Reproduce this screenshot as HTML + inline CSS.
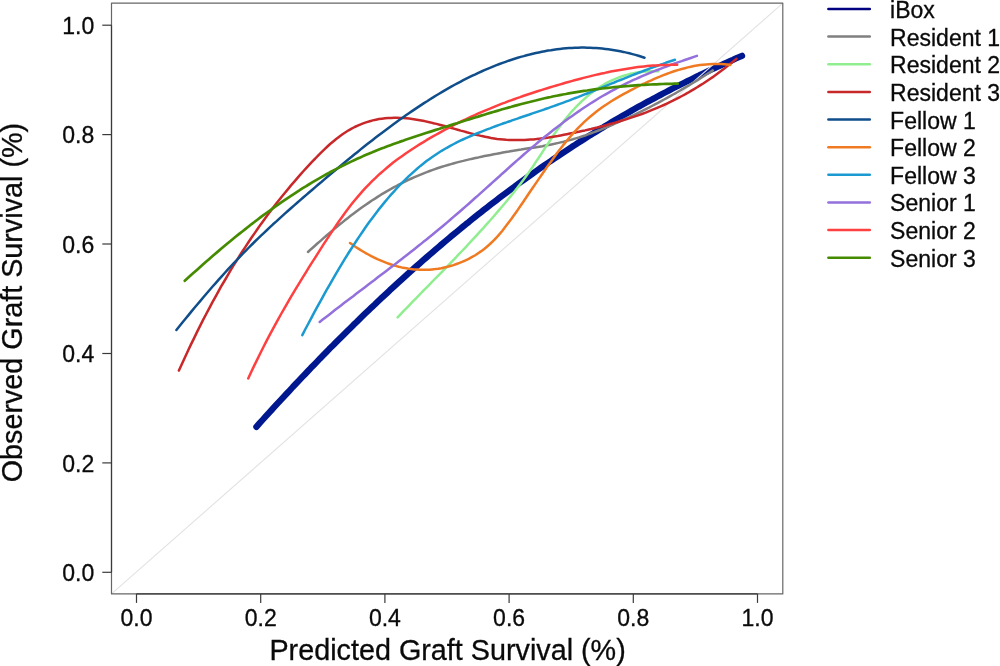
<!DOCTYPE html>
<html><head><meta charset="utf-8"><title>Calibration plot</title>
<style>
html,body{margin:0;padding:0;background:#fff;}
svg{display:block;will-change:transform;}
text{font-family:"Liberation Sans",sans-serif;fill:#0a0a0a;stroke:#0a0a0a;stroke-width:0.3px;}
</style></head>
<body>
<svg width="1000" height="666" viewBox="0 0 1000 666">
<rect x="0" y="0" width="1000" height="666" fill="#ffffff"/>
<path d="M256.4,426.8 L259.4,423.4 L262.5,420.0 L265.5,416.7 L268.5,413.3 L271.6,410.0 L274.6,406.7 L277.6,403.4 L280.7,400.1 L283.7,396.8 L286.8,393.5 L289.8,390.3 L292.8,387.0 L295.9,383.8 L298.9,380.6 L301.9,377.4 L305.0,374.2 L308.0,371.0 L311.0,367.8 L314.1,364.7 L317.1,361.6 L320.1,358.4 L323.2,355.3 L326.2,352.2 L329.2,349.1 L332.3,346.1 L335.3,343.0 L338.3,340.0 L341.4,336.9 L344.4,333.9 L347.4,330.9 L350.5,327.9 L353.5,324.9 L356.6,322.0 L359.6,319.0 L362.6,316.1 L365.7,313.1 L368.7,310.2 L371.7,307.3 L374.8,304.5 L377.8,301.6 L380.8,298.7 L383.9,295.9 L386.9,293.1 L389.9,290.2 L393.0,287.4 L396.0,284.6 L399.0,281.9 L402.1,279.1 L405.1,276.4 L408.1,273.6 L411.2,270.9 L414.2,268.2 L417.3,265.5 L420.3,262.8 L423.3,260.2 L426.4,257.5 L429.4,254.9 L432.4,252.3 L435.5,249.6 L438.5,247.1 L441.5,244.5 L444.6,241.9 L447.6,239.4 L450.6,236.8 L453.7,234.3 L456.7,231.8 L459.7,229.3 L462.8,226.8 L465.8,224.3 L468.9,221.9 L471.9,219.4 L474.9,217.0 L478.0,214.6 L481.0,212.2 L484.0,209.8 L487.1,207.4 L490.1,205.1 L493.1,202.8 L496.2,200.4 L499.2,198.1 L502.2,195.8 L505.3,193.5 L508.3,191.3 L511.3,189.0 L514.4,186.8 L517.4,184.5 L520.4,182.3 L523.5,180.1 L526.5,177.9 L529.5,175.8 L532.6,173.6 L535.6,171.5 L538.7,169.3 L541.7,167.2 L544.7,165.1 L547.8,163.0 L550.8,161.0 L553.8,158.9 L556.9,156.9 L559.9,154.8 L562.9,152.8 L566.0,150.8 L569.0,148.8 L572.0,146.8 L575.1,144.9 L578.1,142.9 L581.1,141.0 L584.2,139.0 L587.2,137.1 L590.2,135.2 L593.3,133.4 L596.3,131.5 L599.4,129.6 L602.4,127.8 L605.4,125.9 L608.5,124.1 L611.5,122.3 L614.5,120.5 L617.6,118.7 L620.6,117.0 L623.6,115.2 L626.7,113.5 L629.7,111.8 L632.7,110.0 L635.8,108.3 L638.8,106.6 L641.8,105.0 L644.9,103.3 L647.9,101.6 L651.0,100.0 L654.0,98.4 L657.0,96.7 L660.1,95.1 L663.1,93.5 L666.1,92.0 L669.2,90.4 L672.2,88.8 L675.2,87.3 L678.3,85.7 L681.3,84.2 L684.3,82.7 L687.4,81.2 L690.4,79.7 L693.4,78.2 L696.5,76.7 L699.5,75.2 L702.5,73.8 L705.6,72.3 L708.6,70.9 L711.6,69.5 L714.7,68.1 L717.7,66.7 L720.8,65.3 L723.8,63.9 L726.8,62.5 L729.9,61.1 L732.9,59.8 L735.9,58.4 L739.0,57.1 L742.0,55.8" fill="none" stroke="#00188f" stroke-width="6.3" stroke-linecap="round" stroke-linejoin="round"/>
<line x1="111.5" y1="593.9" x2="782.8" y2="3.1" stroke="#e2e2e2" stroke-width="1.1"/>
<path d="M308.0,252.0 L311.0,249.2 L314.1,246.5 L317.1,243.8 L320.2,241.1 L323.2,238.4 L326.3,235.8 L329.3,233.2 L332.3,230.6 L335.4,228.1 L338.4,225.5 L341.5,223.1 L344.5,220.6 L347.6,218.2 L350.6,215.8 L353.7,213.5 L356.7,211.2 L359.7,209.0 L362.8,206.8 L365.8,204.7 L368.9,202.6 L371.9,200.5 L375.0,198.6 L378.0,196.6 L381.0,194.7 L384.1,192.9 L387.1,191.1 L390.2,189.4 L393.2,187.7 L396.3,186.0 L399.3,184.4 L402.4,182.9 L405.4,181.4 L408.4,179.9 L411.5,178.5 L414.5,177.2 L417.6,175.8 L420.6,174.6 L423.7,173.3 L426.7,172.2 L429.7,171.0 L432.8,169.9 L435.8,168.8 L438.9,167.8 L441.9,166.8 L445.0,165.9 L448.0,165.0 L451.0,164.1 L454.1,163.2 L457.1,162.4 L460.2,161.6 L463.2,160.9 L466.3,160.1 L469.3,159.4 L472.4,158.7 L475.4,158.0 L478.4,157.4 L481.5,156.7 L484.5,156.1 L487.6,155.5 L490.6,154.9 L493.7,154.3 L496.7,153.8 L499.7,153.2 L502.8,152.6 L505.8,152.1 L508.9,151.6 L511.9,151.0 L515.0,150.5 L518.0,150.0 L521.1,149.6 L524.1,149.1 L527.1,148.6 L530.2,148.1 L533.2,147.7 L536.3,147.2 L539.3,146.7 L542.4,146.2 L545.4,145.6 L548.4,145.0 L551.5,144.4 L554.5,143.8 L557.6,143.1 L560.6,142.4 L563.7,141.7 L566.7,140.9 L569.8,140.1 L572.8,139.3 L575.8,138.4 L578.9,137.5 L581.9,136.5 L585.0,135.5 L588.0,134.4 L591.1,133.3 L594.1,132.2 L597.1,131.0 L600.2,129.8 L603.2,128.6 L606.3,127.3 L609.3,126.1 L612.4,124.8 L615.4,123.4 L618.4,122.1 L621.5,120.7 L624.5,119.4 L627.6,118.0 L630.6,116.5 L633.7,115.1 L636.7,113.6 L639.8,112.1 L642.8,110.6 L645.8,109.1 L648.9,107.6 L651.9,106.0 L655.0,104.4 L658.0,102.8 L661.1,101.2 L664.1,99.5 L667.1,97.9 L670.2,96.2 L673.2,94.5 L676.3,92.8 L679.3,91.0 L682.4,89.2 L685.4,87.4 L688.5,85.6 L691.5,83.8 L694.5,82.0 L697.6,80.1 L700.6,78.2 L703.7,76.3 L706.7,74.3 L709.8,72.4 L712.8,70.4" fill="none" stroke="#808080" stroke-width="2.5" stroke-linecap="round" stroke-linejoin="round"/>
<path d="M397.6,317.3 L400.7,314.1 L403.7,310.9 L406.8,307.8 L409.9,304.6 L412.9,301.4 L416.0,298.3 L419.1,295.2 L422.1,292.0 L425.2,288.9 L428.3,285.8 L431.3,282.7 L434.4,279.5 L437.5,276.4 L440.5,273.3 L443.6,270.1 L446.7,267.0 L449.7,263.8 L452.8,260.6 L455.9,257.5 L458.9,254.2 L462.0,251.0 L465.1,247.8 L468.1,244.5 L471.2,241.2 L474.3,237.9 L477.3,234.6 L480.4,231.2 L483.5,227.9 L486.5,224.4 L489.6,221.0 L492.7,217.5 L495.7,214.0 L498.8,210.4 L501.9,206.8 L504.9,203.2 L508.0,199.5 L511.1,195.7 L514.1,191.9 L517.2,188.0 L520.3,184.0 L523.3,180.0 L526.4,175.8 L529.5,171.4 L532.6,167.0 L535.6,162.4 L538.7,157.8 L541.8,153.1 L544.8,148.4 L547.9,143.7 L551.0,139.1 L554.0,134.5 L557.1,130.1 L560.2,125.9 L563.2,121.9 L566.3,118.0 L569.4,114.3 L572.4,110.8 L575.5,107.5 L578.6,104.3 L581.6,101.4 L584.7,98.6 L587.8,95.9 L590.8,93.4 L593.9,91.1 L597.0,88.9 L600.0,86.9 L603.1,85.0 L606.2,83.2 L609.2,81.6 L612.3,80.1 L615.4,78.8 L618.4,77.6 L621.5,76.5 L624.6,75.5 L627.6,74.6 L630.7,73.8 L633.8,73.2 L636.8,72.6 L639.9,72.1 L643.0,71.8 L646.0,71.5 L649.1,71.3 L652.2,71.2 L655.2,71.2 L658.3,71.2" fill="none" stroke="#90ee90" stroke-width="2.5" stroke-linecap="round" stroke-linejoin="round"/>
<path d="M178.9,370.6 L181.9,363.9 L185.0,357.3 L188.0,350.8 L191.0,344.4 L194.1,338.1 L197.1,331.9 L200.1,325.9 L203.1,319.9 L206.2,314.0 L209.2,308.3 L212.2,302.6 L215.3,297.1 L218.3,291.6 L221.3,286.2 L224.4,281.0 L227.4,275.8 L230.4,270.7 L233.4,265.7 L236.5,260.8 L239.5,256.0 L242.5,251.2 L245.6,246.6 L248.6,242.0 L251.6,237.5 L254.7,233.1 L257.7,228.7 L260.7,224.4 L263.8,220.2 L266.8,216.1 L269.8,212.1 L272.8,208.1 L275.9,204.1 L278.9,200.3 L281.9,196.5 L285.0,192.7 L288.0,189.1 L291.0,185.4 L294.1,181.9 L297.1,178.4 L300.1,174.9 L303.1,171.5 L306.2,168.2 L309.2,164.9 L312.2,161.6 L315.3,158.5 L318.3,155.3 L321.3,152.3 L324.4,149.4 L327.4,146.5 L330.4,143.8 L333.5,141.2 L336.5,138.7 L339.5,136.4 L342.5,134.2 L345.6,132.2 L348.6,130.3 L351.6,128.6 L354.7,127.0 L357.7,125.6 L360.7,124.3 L363.8,123.1 L366.8,122.1 L369.8,121.2 L372.8,120.4 L375.9,119.7 L378.9,119.1 L381.9,118.7 L385.0,118.3 L388.0,118.0 L391.0,117.9 L394.1,117.8 L397.1,117.8 L400.1,117.9 L403.2,118.1 L406.2,118.3 L409.2,118.6 L412.2,119.0 L415.3,119.5 L418.3,120.0 L421.3,120.5 L424.4,121.1 L427.4,121.8 L430.4,122.4 L433.5,123.2 L436.5,123.9 L439.5,124.7 L442.5,125.5 L445.6,126.3 L448.6,127.2 L451.6,128.0 L454.7,128.9 L457.7,129.7 L460.7,130.6 L463.8,131.4 L466.8,132.3 L469.8,133.1 L472.9,133.9 L475.9,134.7 L478.9,135.4 L481.9,136.1 L485.0,136.7 L488.0,137.3 L491.0,137.9 L494.1,138.4 L497.1,138.9 L500.1,139.2 L503.2,139.5 L506.2,139.8 L509.2,140.0 L512.2,140.1 L515.3,140.1 L518.3,140.1 L521.3,140.1 L524.4,140.0 L527.4,139.8 L530.4,139.6 L533.5,139.4 L536.5,139.1 L539.5,138.7 L542.6,138.3 L545.6,137.9 L548.6,137.5 L551.6,137.0 L554.7,136.5 L557.7,136.0 L560.7,135.4 L563.8,134.8 L566.8,134.2 L569.8,133.6 L572.9,133.0 L575.9,132.4 L578.9,131.7 L581.9,131.0 L585.0,130.4 L588.0,129.7 L591.0,129.0 L594.1,128.2 L597.1,127.5 L600.1,126.7 L603.2,126.0 L606.2,125.2 L609.2,124.3 L612.3,123.5 L615.3,122.6 L618.3,121.7 L621.3,120.8 L624.4,119.9 L627.4,118.9 L630.4,117.9 L633.5,116.9 L636.5,115.9 L639.5,114.8 L642.6,113.7 L645.6,112.6 L648.6,111.4 L651.6,110.2 L654.7,108.9 L657.7,107.6 L660.7,106.3 L663.8,105.0 L666.8,103.6 L669.8,102.2 L672.9,100.7 L675.9,99.2 L678.9,97.6 L682.0,96.0 L685.0,94.4 L688.0,92.7 L691.0,90.9 L694.1,89.1 L697.1,87.3 L700.1,85.4 L703.2,83.5 L706.2,81.5 L709.2,79.5 L712.3,77.4 L715.3,75.2 L718.3,73.0 L721.3,70.8 L724.4,68.5 L727.4,66.1 L730.4,63.7 L733.5,61.2 L736.5,58.7" fill="none" stroke="#c8282a" stroke-width="2.5" stroke-linecap="round" stroke-linejoin="round"/>
<path d="M176.4,330.0 L179.4,326.3 L182.4,322.5 L185.5,318.8 L188.5,315.1 L191.5,311.4 L194.5,307.8 L197.5,304.2 L200.6,300.6 L203.6,297.0 L206.6,293.5 L209.6,290.0 L212.6,286.5 L215.7,283.1 L218.7,279.7 L221.7,276.3 L224.7,273.0 L227.7,269.7 L230.8,266.4 L233.8,263.2 L236.8,260.0 L239.8,256.8 L242.8,253.7 L245.9,250.6 L248.9,247.5 L251.9,244.5 L254.9,241.5 L257.9,238.6 L261.0,235.7 L264.0,232.8 L267.0,230.0 L270.0,227.1 L273.0,224.3 L276.1,221.6 L279.1,218.8 L282.1,216.1 L285.1,213.4 L288.1,210.7 L291.2,208.0 L294.2,205.4 L297.2,202.8 L300.2,200.1 L303.2,197.5 L306.3,194.9 L309.3,192.3 L312.3,189.7 L315.3,187.1 L318.3,184.5 L321.4,182.0 L324.4,179.4 L327.4,176.8 L330.4,174.3 L333.4,171.8 L336.5,169.2 L339.5,166.7 L342.5,164.2 L345.5,161.7 L348.5,159.2 L351.6,156.8 L354.6,154.3 L357.6,151.9 L360.6,149.4 L363.6,147.0 L366.7,144.6 L369.7,142.3 L372.7,139.9 L375.7,137.6 L378.7,135.2 L381.8,132.9 L384.8,130.7 L387.8,128.4 L390.8,126.2 L393.8,123.9 L396.9,121.7 L399.9,119.6 L402.9,117.4 L405.9,115.3 L408.9,113.2 L412.0,111.1 L415.0,109.1 L418.0,107.1 L421.0,105.1 L424.0,103.1 L427.1,101.2 L430.1,99.2 L433.1,97.4 L436.1,95.5 L439.1,93.7 L442.2,91.9 L445.2,90.1 L448.2,88.4 L451.2,86.7 L454.2,85.0 L457.3,83.4 L460.3,81.8 L463.3,80.2 L466.3,78.7 L469.3,77.2 L472.4,75.7 L475.4,74.3 L478.4,72.8 L481.4,71.5 L484.4,70.1 L487.5,68.8 L490.5,67.6 L493.5,66.3 L496.5,65.1 L499.5,64.0 L502.6,62.9 L505.6,61.8 L508.6,60.7 L511.6,59.7 L514.6,58.7 L517.7,57.8 L520.7,56.9 L523.7,56.1 L526.7,55.2 L529.7,54.5 L532.8,53.7 L535.8,53.0 L538.8,52.4 L541.8,51.8 L544.8,51.2 L547.9,50.6 L550.9,50.2 L553.9,49.7 L556.9,49.3 L559.9,48.9 L563.0,48.6 L566.0,48.3 L569.0,48.1 L572.0,47.9 L575.0,47.8 L578.1,47.7 L581.1,47.6 L584.1,47.6 L587.1,47.7 L590.1,47.8 L593.2,47.9 L596.2,48.1 L599.2,48.3 L602.2,48.6 L605.2,48.9 L608.3,49.3 L611.3,49.7 L614.3,50.2 L617.3,50.7 L620.3,51.3 L623.4,51.9 L626.4,52.6 L629.4,53.3 L632.4,54.1 L635.4,54.9 L638.5,55.8 L641.5,56.7 L644.5,57.7" fill="none" stroke="#104e8b" stroke-width="2.5" stroke-linecap="round" stroke-linejoin="round"/>
<path d="M350.0,243.0 L353.0,245.1 L356.1,247.2 L359.1,249.1 L362.2,251.0 L365.2,252.8 L368.3,254.5 L371.3,256.1 L374.3,257.6 L377.4,259.1 L380.4,260.4 L383.5,261.7 L386.5,262.9 L389.6,264.0 L392.6,265.0 L395.6,265.9 L398.7,266.7 L401.7,267.4 L404.8,268.0 L407.8,268.6 L410.9,269.0 L413.9,269.4 L417.0,269.6 L420.0,269.8 L423.0,269.8 L426.1,269.8 L429.1,269.7 L432.2,269.4 L435.2,269.1 L438.3,268.7 L441.3,268.2 L444.3,267.5 L447.4,266.8 L450.4,266.0 L453.5,265.1 L456.5,264.0 L459.6,262.9 L462.6,261.7 L465.6,260.3 L468.7,258.8 L471.7,257.2 L474.8,255.5 L477.8,253.5 L480.9,251.4 L483.9,249.2 L486.9,246.7 L490.0,244.0 L493.0,241.1 L496.1,238.0 L499.1,234.6 L502.2,231.0 L505.2,227.1 L508.2,223.1 L511.3,219.0 L514.3,214.7 L517.4,210.4 L520.4,206.0 L523.5,201.5 L526.5,197.0 L529.5,192.5 L532.6,188.0 L535.6,183.6 L538.7,179.1 L541.7,174.7 L544.8,170.3 L547.8,165.9 L550.9,161.7 L553.9,157.5 L556.9,153.3 L560.0,149.3 L563.0,145.4 L566.1,141.6 L569.1,138.0 L572.2,134.4 L575.2,131.1 L578.2,127.9 L581.3,124.8 L584.3,121.9 L587.4,119.1 L590.4,116.5 L593.5,114.0 L596.5,111.6 L599.5,109.3 L602.6,107.1 L605.6,105.0 L608.7,103.0 L611.7,101.0 L614.8,99.2 L617.8,97.4 L620.8,95.6 L623.9,93.9 L626.9,92.3 L630.0,90.7 L633.0,89.1 L636.1,87.5 L639.1,86.0 L642.1,84.5 L645.2,83.1 L648.2,81.6 L651.3,80.3 L654.3,78.9 L657.4,77.6 L660.4,76.4 L663.4,75.1 L666.5,74.0 L669.5,72.9 L672.6,71.8 L675.6,70.8 L678.7,69.9 L681.7,69.0 L684.8,68.2 L687.8,67.4 L690.8,66.7 L693.9,66.1 L696.9,65.6 L700.0,65.1 L703.0,64.7 L706.1,64.4 L709.1,64.2 L712.1,64.0 L715.2,63.9 L718.2,63.9 L721.3,64.0 L724.3,64.2 L727.4,64.5 L730.4,64.9" fill="none" stroke="#f07a22" stroke-width="2.5" stroke-linecap="round" stroke-linejoin="round"/>
<path d="M302.3,335.1 L305.3,329.3 L308.4,323.5 L311.4,317.8 L314.4,312.2 L317.4,306.6 L320.5,301.1 L323.5,295.6 L326.5,290.2 L329.6,284.9 L332.6,279.6 L335.6,274.4 L338.7,269.2 L341.7,264.2 L344.7,259.2 L347.7,254.3 L350.8,249.5 L353.8,244.8 L356.8,240.2 L359.9,235.6 L362.9,231.2 L365.9,226.8 L368.9,222.6 L372.0,218.4 L375.0,214.4 L378.0,210.4 L381.1,206.6 L384.1,202.9 L387.1,199.2 L390.1,195.7 L393.2,192.3 L396.2,189.0 L399.2,185.7 L402.3,182.6 L405.3,179.6 L408.3,176.7 L411.4,173.8 L414.4,171.1 L417.4,168.5 L420.4,165.9 L423.5,163.5 L426.5,161.1 L429.5,158.9 L432.6,156.7 L435.6,154.7 L438.6,152.7 L441.6,150.8 L444.7,149.0 L447.7,147.3 L450.7,145.6 L453.8,144.0 L456.8,142.4 L459.8,140.9 L462.9,139.5 L465.9,138.1 L468.9,136.8 L471.9,135.5 L475.0,134.2 L478.0,133.0 L481.0,131.8 L484.1,130.6 L487.1,129.4 L490.1,128.3 L493.1,127.1 L496.2,126.0 L499.2,124.9 L502.2,123.8 L505.3,122.8 L508.3,121.7 L511.3,120.7 L514.3,119.6 L517.4,118.6 L520.4,117.5 L523.4,116.5 L526.5,115.5 L529.5,114.5 L532.5,113.4 L535.6,112.4 L538.6,111.4 L541.6,110.4 L544.6,109.3 L547.7,108.3 L550.7,107.2 L553.7,106.1 L556.8,105.0 L559.8,103.9 L562.8,102.8 L565.8,101.7 L568.9,100.6 L571.9,99.4 L574.9,98.2 L578.0,97.1 L581.0,95.9 L584.0,94.7 L587.1,93.5 L590.1,92.3 L593.1,91.1 L596.1,89.8 L599.2,88.6 L602.2,87.4 L605.2,86.2 L608.3,84.9 L611.3,83.7 L614.3,82.5 L617.3,81.2 L620.4,80.0 L623.4,78.8 L626.4,77.6 L629.5,76.4 L632.5,75.2 L635.5,74.0 L638.5,72.8 L641.6,71.7 L644.6,70.5 L647.6,69.4 L650.7,68.2 L653.7,67.1 L656.7,66.0 L659.8,64.9 L662.8,63.9 L665.8,62.8 L668.8,61.8 L671.9,60.8 L674.9,59.8" fill="none" stroke="#1a9ad0" stroke-width="2.5" stroke-linecap="round" stroke-linejoin="round"/>
<path d="M319.7,322.0 L322.7,319.6 L325.8,317.2 L328.8,314.9 L331.9,312.5 L334.9,310.1 L338.0,307.8 L341.0,305.5 L344.0,303.1 L347.1,300.8 L350.1,298.5 L353.2,296.2 L356.2,293.8 L359.2,291.5 L362.3,289.2 L365.3,286.9 L368.4,284.6 L371.4,282.3 L374.5,280.0 L377.5,277.6 L380.5,275.3 L383.6,273.0 L386.6,270.7 L389.7,268.3 L392.7,266.0 L395.7,263.7 L398.8,261.3 L401.8,258.9 L404.9,256.6 L407.9,254.2 L411.0,251.8 L414.0,249.4 L417.0,247.0 L420.1,244.6 L423.1,242.1 L426.2,239.7 L429.2,237.2 L432.3,234.8 L435.3,232.3 L438.3,229.8 L441.4,227.2 L444.4,224.7 L447.5,222.1 L450.5,219.5 L453.5,216.9 L456.6,214.3 L459.6,211.7 L462.7,209.0 L465.7,206.4 L468.8,203.7 L471.8,201.0 L474.8,198.3 L477.9,195.6 L480.9,192.9 L484.0,190.1 L487.0,187.4 L490.0,184.7 L493.1,181.9 L496.1,179.2 L499.2,176.5 L502.2,173.7 L505.3,171.0 L508.3,168.3 L511.3,165.5 L514.4,162.8 L517.4,160.1 L520.5,157.5 L523.5,154.8 L526.6,152.1 L529.6,149.5 L532.6,146.9 L535.7,144.4 L538.7,141.8 L541.8,139.3 L544.8,136.8 L547.8,134.4 L550.9,132.0 L553.9,129.6 L557.0,127.2 L560.0,124.9 L563.1,122.6 L566.1,120.3 L569.1,118.1 L572.2,115.9 L575.2,113.7 L578.3,111.6 L581.3,109.5 L584.3,107.5 L587.4,105.5 L590.4,103.5 L593.5,101.6 L596.5,99.7 L599.6,97.8 L602.6,96.0 L605.6,94.3 L608.7,92.6 L611.7,90.9 L614.8,89.3 L617.8,87.7 L620.9,86.1 L623.9,84.6 L626.9,83.1 L630.0,81.7 L633.0,80.2 L636.1,78.9 L639.1,77.5 L642.1,76.2 L645.2,74.9 L648.2,73.6 L651.3,72.4 L654.3,71.2 L657.4,70.0 L660.4,68.8 L663.4,67.6 L666.5,66.5 L669.5,65.4 L672.6,64.3 L675.6,63.2 L678.6,62.1 L681.7,61.1 L684.7,60.0 L687.8,59.0 L690.8,58.0 L693.9,56.9 L696.9,55.9" fill="none" stroke="#9370db" stroke-width="2.5" stroke-linecap="round" stroke-linejoin="round"/>
<path d="M248.2,378.4 L251.2,371.9 L254.2,365.6 L257.3,359.4 L260.3,353.2 L263.3,347.3 L266.3,341.4 L269.3,335.6 L272.4,329.9 L275.4,324.3 L278.4,318.9 L281.4,313.5 L284.5,308.1 L287.5,302.9 L290.5,297.7 L293.5,292.6 L296.5,287.6 L299.6,282.6 L302.6,277.7 L305.6,272.8 L308.6,267.9 L311.6,263.1 L314.7,258.4 L317.7,253.6 L320.7,248.9 L323.7,244.2 L326.7,239.6 L329.8,234.9 L332.8,230.4 L335.8,225.9 L338.8,221.5 L341.9,217.2 L344.9,213.0 L347.9,209.0 L350.9,205.1 L353.9,201.3 L357.0,197.6 L360.0,194.1 L363.0,190.7 L366.0,187.4 L369.0,184.3 L372.1,181.2 L375.1,178.3 L378.1,175.4 L381.1,172.7 L384.2,170.1 L387.2,167.5 L390.2,165.0 L393.2,162.6 L396.2,160.3 L399.3,158.1 L402.3,155.9 L405.3,153.8 L408.3,151.7 L411.3,149.7 L414.4,147.7 L417.4,145.8 L420.4,143.9 L423.4,142.1 L426.4,140.2 L429.5,138.4 L432.5,136.7 L435.5,135.0 L438.5,133.3 L441.6,131.6 L444.6,129.9 L447.6,128.3 L450.6,126.8 L453.6,125.2 L456.7,123.7 L459.7,122.2 L462.7,120.7 L465.7,119.3 L468.7,117.8 L471.8,116.4 L474.8,115.1 L477.8,113.7 L480.8,112.4 L483.8,111.1 L486.9,109.8 L489.9,108.6 L492.9,107.3 L495.9,106.1 L499.0,104.9 L502.0,103.7 L505.0,102.6 L508.0,101.4 L511.0,100.3 L514.1,99.2 L517.1,98.1 L520.1,97.1 L523.1,96.0 L526.1,95.0 L529.2,94.0 L532.2,93.0 L535.2,92.0 L538.2,91.0 L541.2,90.1 L544.3,89.1 L547.3,88.2 L550.3,87.3 L553.3,86.4 L556.4,85.5 L559.4,84.6 L562.4,83.7 L565.4,82.8 L568.4,82.0 L571.5,81.1 L574.5,80.3 L577.5,79.5 L580.5,78.7 L583.5,77.9 L586.6,77.1 L589.6,76.4 L592.6,75.6 L595.6,74.9 L598.7,74.2 L601.7,73.5 L604.7,72.9 L607.7,72.2 L610.7,71.6 L613.8,71.0 L616.8,70.4 L619.8,69.9 L622.8,69.4 L625.8,68.9 L628.9,68.4 L631.9,67.9 L634.9,67.5 L637.9,67.1 L640.9,66.7 L644.0,66.4 L647.0,66.1 L650.0,65.8 L653.0,65.6 L656.1,65.4 L659.1,65.2 L662.1,65.0 L665.1,64.9 L668.1,64.9 L671.2,64.8 L674.2,64.8 L677.2,64.8" fill="none" stroke="#ff4040" stroke-width="2.5" stroke-linecap="round" stroke-linejoin="round"/>
<path d="M184.8,280.8 L187.8,278.1 L190.8,275.3 L193.9,272.6 L196.9,269.9 L199.9,267.2 L202.9,264.5 L206.0,261.8 L209.0,259.2 L212.0,256.6 L215.0,254.0 L218.1,251.4 L221.1,248.8 L224.1,246.3 L227.1,243.7 L230.2,241.2 L233.2,238.8 L236.2,236.3 L239.2,233.9 L242.3,231.5 L245.3,229.1 L248.3,226.7 L251.3,224.3 L254.4,222.0 L257.4,219.7 L260.4,217.4 L263.4,215.2 L266.4,213.0 L269.5,210.8 L272.5,208.6 L275.5,206.4 L278.5,204.3 L281.6,202.2 L284.6,200.1 L287.6,198.1 L290.6,196.1 L293.7,194.1 L296.7,192.1 L299.7,190.2 L302.7,188.2 L305.8,186.4 L308.8,184.5 L311.8,182.7 L314.8,180.9 L317.9,179.1 L320.9,177.4 L323.9,175.7 L326.9,174.0 L329.9,172.3 L333.0,170.7 L336.0,169.1 L339.0,167.6 L342.0,166.0 L345.1,164.5 L348.1,163.1 L351.1,161.6 L354.1,160.2 L357.2,158.8 L360.2,157.5 L363.2,156.1 L366.2,154.8 L369.3,153.5 L372.3,152.3 L375.3,151.0 L378.3,149.8 L381.4,148.6 L384.4,147.5 L387.4,146.3 L390.4,145.2 L393.5,144.1 L396.5,143.0 L399.5,141.9 L402.5,140.9 L405.5,139.8 L408.6,138.8 L411.6,137.8 L414.6,136.8 L417.6,135.8 L420.7,134.8 L423.7,133.8 L426.7,132.8 L429.7,131.9 L432.8,130.9 L435.8,129.9 L438.8,129.0 L441.8,128.0 L444.9,127.0 L447.9,126.1 L450.9,125.1 L453.9,124.1 L457.0,123.2 L460.0,122.2 L463.0,121.3 L466.0,120.3 L469.0,119.4 L472.1,118.4 L475.1,117.5 L478.1,116.6 L481.1,115.6 L484.2,114.7 L487.2,113.8 L490.2,112.9 L493.2,112.0 L496.3,111.1 L499.3,110.2 L502.3,109.3 L505.3,108.5 L508.4,107.6 L511.4,106.8 L514.4,105.9 L517.4,105.1 L520.5,104.3 L523.5,103.5 L526.5,102.7 L529.5,102.0 L532.6,101.2 L535.6,100.5 L538.6,99.7 L541.6,99.0 L544.6,98.3 L547.7,97.6 L550.7,97.0 L553.7,96.3 L556.7,95.7 L559.8,95.1 L562.8,94.5 L565.8,94.0 L568.8,93.4 L571.9,92.9 L574.9,92.4 L577.9,91.9 L580.9,91.4 L584.0,90.9 L587.0,90.5 L590.0,90.0 L593.0,89.6 L596.1,89.2 L599.1,88.9 L602.1,88.5 L605.1,88.1 L608.1,87.8 L611.2,87.5 L614.2,87.2 L617.2,86.9 L620.2,86.6 L623.3,86.3 L626.3,86.1 L629.3,85.9 L632.3,85.6 L635.4,85.4 L638.4,85.2 L641.4,85.0 L644.4,84.9 L647.5,84.7 L650.5,84.5 L653.5,84.4 L656.5,84.3 L659.6,84.1 L662.6,84.0 L665.6,83.9 L668.6,83.8 L671.7,83.8 L674.7,83.7 L677.7,83.6" fill="none" stroke="#458b00" stroke-width="2.7" stroke-linecap="round" stroke-linejoin="round"/>
<rect x="111.5" y="3.1" width="671.3" height="590.8" fill="none" stroke="#666" stroke-width="1.2" stroke-linejoin="round"/>
<line x1="136.5" y1="593.9" x2="757.5" y2="593.9" stroke="#3a3a3a" stroke-width="1.2"/>
<line x1="111.5" y1="572.3" x2="111.5" y2="25.199999999999932" stroke="#3a3a3a" stroke-width="1.2"/>
<line x1="136.5" y1="593.9" x2="136.5" y2="602.9" stroke="#3a3a3a" stroke-width="1.2"/>
<line x1="260.7" y1="593.9" x2="260.7" y2="602.9" stroke="#3a3a3a" stroke-width="1.2"/>
<line x1="384.9" y1="593.9" x2="384.9" y2="602.9" stroke="#3a3a3a" stroke-width="1.2"/>
<line x1="509.1" y1="593.9" x2="509.1" y2="602.9" stroke="#3a3a3a" stroke-width="1.2"/>
<line x1="633.3" y1="593.9" x2="633.3" y2="602.9" stroke="#3a3a3a" stroke-width="1.2"/>
<line x1="757.5" y1="593.9" x2="757.5" y2="602.9" stroke="#3a3a3a" stroke-width="1.2"/>
<line x1="102.3" y1="572.3" x2="111.5" y2="572.3" stroke="#3a3a3a" stroke-width="1.2"/>
<line x1="102.3" y1="462.9" x2="111.5" y2="462.9" stroke="#3a3a3a" stroke-width="1.2"/>
<line x1="102.3" y1="353.5" x2="111.5" y2="353.5" stroke="#3a3a3a" stroke-width="1.2"/>
<line x1="102.3" y1="244.0" x2="111.5" y2="244.0" stroke="#3a3a3a" stroke-width="1.2"/>
<line x1="102.3" y1="134.6" x2="111.5" y2="134.6" stroke="#3a3a3a" stroke-width="1.2"/>
<line x1="102.3" y1="25.2" x2="111.5" y2="25.2" stroke="#3a3a3a" stroke-width="1.2"/>
<text x="136.5" y="626.4" text-anchor="middle" font-size="23">0.0</text>
<text x="260.7" y="626.4" text-anchor="middle" font-size="23">0.2</text>
<text x="384.9" y="626.4" text-anchor="middle" font-size="23">0.4</text>
<text x="509.1" y="626.4" text-anchor="middle" font-size="23">0.6</text>
<text x="633.3" y="626.4" text-anchor="middle" font-size="23">0.8</text>
<text x="757.5" y="626.4" text-anchor="middle" font-size="23">1.0</text>
<text x="94.3" y="581.0" text-anchor="end" font-size="23">0.0</text>
<text x="94.3" y="471.6" text-anchor="end" font-size="23">0.2</text>
<text x="94.3" y="362.2" text-anchor="end" font-size="23">0.4</text>
<text x="94.3" y="252.7" text-anchor="end" font-size="23">0.6</text>
<text x="94.3" y="143.3" text-anchor="end" font-size="23">0.8</text>
<text x="94.3" y="33.9" text-anchor="end" font-size="23">1.0</text>
<text x="447.6" y="660.2" text-anchor="middle" font-size="28.75">Predicted Graft Survival (%)</text>
<text transform="translate(21.6,302.6) rotate(-90)" text-anchor="middle" font-size="28.75">Observed Graft Survival (%)</text>
<line x1="828.4" y1="9.0" x2="869.8" y2="9.0" stroke="#000080" stroke-width="2.5" stroke-linecap="round"/>
<text x="890.1" y="18.0" font-size="23">iBox</text>
<line x1="828.4" y1="36.6" x2="869.8" y2="36.6" stroke="#808080" stroke-width="2.5" stroke-linecap="round"/>
<text x="890.1" y="45.6" font-size="23">Resident 1</text>
<line x1="828.4" y1="64.3" x2="869.8" y2="64.3" stroke="#90ee90" stroke-width="2.5" stroke-linecap="round"/>
<text x="890.1" y="73.3" font-size="23">Resident 2</text>
<line x1="828.4" y1="91.9" x2="869.8" y2="91.9" stroke="#c8282a" stroke-width="2.5" stroke-linecap="round"/>
<text x="890.1" y="100.9" font-size="23">Resident 3</text>
<line x1="828.4" y1="119.5" x2="869.8" y2="119.5" stroke="#104e8b" stroke-width="2.5" stroke-linecap="round"/>
<text x="890.1" y="128.5" font-size="23">Fellow 1</text>
<line x1="828.4" y1="147.2" x2="869.8" y2="147.2" stroke="#f07a22" stroke-width="2.5" stroke-linecap="round"/>
<text x="890.1" y="156.2" font-size="23">Fellow 2</text>
<line x1="828.4" y1="174.8" x2="869.8" y2="174.8" stroke="#1a9ad0" stroke-width="2.5" stroke-linecap="round"/>
<text x="890.1" y="183.8" font-size="23">Fellow 3</text>
<line x1="828.4" y1="202.4" x2="869.8" y2="202.4" stroke="#9370db" stroke-width="2.5" stroke-linecap="round"/>
<text x="890.1" y="211.4" font-size="23">Senior 1</text>
<line x1="828.4" y1="230.0" x2="869.8" y2="230.0" stroke="#ff4040" stroke-width="2.5" stroke-linecap="round"/>
<text x="890.1" y="239.0" font-size="23">Senior 2</text>
<line x1="828.4" y1="257.7" x2="869.8" y2="257.7" stroke="#458b00" stroke-width="2.5" stroke-linecap="round"/>
<text x="890.1" y="266.7" font-size="23">Senior 3</text>
</svg>
</body></html>
